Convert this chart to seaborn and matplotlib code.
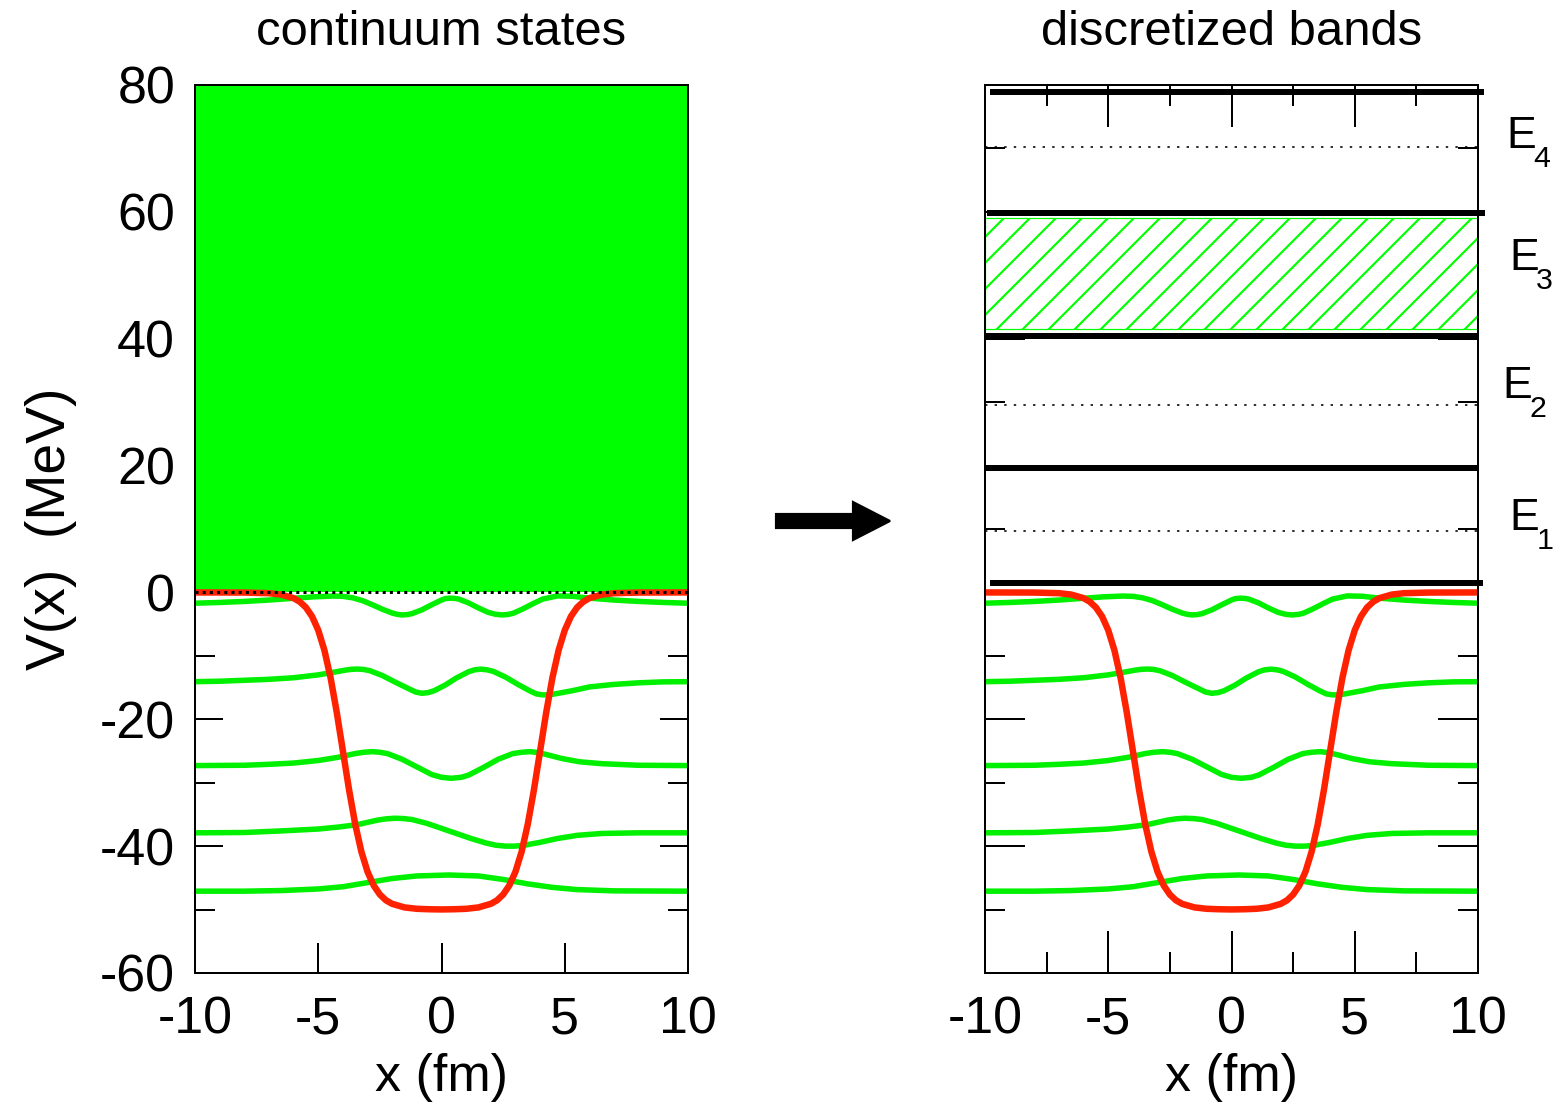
import numpy as np
import pandas as pd
import matplotlib
matplotlib.use("Agg")
import matplotlib.pyplot as plt
import seaborn as sns
from matplotlib.ticker import MultipleLocator, FixedLocator
from matplotlib.patches import FancyArrow

# ---------------- data ----------------
pot_x = [-10, -9, -8, -7, -6.5, -6, -5.75, -5.5, -5.25, -5, -4.75, -4.5, -4.25, -4,
         -3.75, -3.5, -3.25, -3, -2.75, -2.5, -2.25, -2, -1.5, -1, -0.5, 0,
         0.5, 1, 1.5, 2, 2.25, 2.5, 2.75, 3, 3.25, 3.5, 3.75, 4, 4.25, 4.5, 4.75, 5,
         5.25, 5.5, 5.75, 6, 6.5, 7, 8, 9, 10]
pot_v = [0.0, -0.01, -0.02, -0.12, -0.34, -0.90, -1.47, -2.37, -3.79, -5.96, -9.12, -13.45, -18.88, -25.0,
         -31.12, -36.55, -40.88, -44.04, -46.21, -47.63, -48.55, -49.10, -49.66, -49.88, -49.95, -49.98,
         -49.95, -49.88, -49.66, -49.10, -48.55, -47.63, -46.21, -44.04, -40.88, -36.55, -31.12, -25.0, -18.88, -13.45, -9.12, -5.96,
         -3.79, -2.37, -1.47, -0.90, -0.34, -0.12, -0.02, -0.01, 0.0]

w1_x = [-10, -9, -8, -7, -6, -5.2, -4.4, -4.0, -3.6, -3.2, -2.8, -2.4, -2.0, -1.8, -1.6, -1.4,
        -1.2, -0.8, -0.4, 0.0, 0.15, 0.35, 0.55, 0.7, 1.1, 1.5, 1.9, 2.2, 2.45, 2.7, 2.9, 3.3, 3.7, 4.1,
        4.7, 5.3, 6.0, 7, 8, 9, 10]
w1_y = [-1.70, -1.58, -1.42, -1.20, -0.92, -0.70, -0.57, -0.62, -0.85, -1.30, -1.95, -2.65, -3.25, -3.45, -3.55, -3.50,
        -3.35, -2.75, -1.95, -1.20, -0.98, -0.90, -0.95, -1.05, -1.65, -2.45, -3.15, -3.45, -3.55, -3.47, -3.30, -2.60, -1.80, -1.05,
        -0.55, -0.60, -0.90, -1.20, -1.42, -1.58, -1.70]

w2_x = [-10, -9, -8, -7, -6, -5, -4.4, -3.9, -3.65, -3.4, -3.15, -2.9, -2.4, -1.9, -1.4, -1.05, -0.8, -0.55, -0.3,
        0.15, 0.6, 1.1, 1.35, 1.6, 1.85, 2.1, 2.6, 3.1, 3.6, 3.85, 4.1, 4.35, 4.6, 5.3, 6, 7, 8, 9, 10]
w2_y = [-14.07, -14.0, -13.85, -13.7, -13.45, -13.0, -12.6, -12.25, -12.12, -12.08, -12.15, -12.35, -13.1, -14.1, -15.05, -15.7, -15.9, -15.8, -15.5,
        -14.6, -13.5, -12.5, -12.2, -12.1, -12.2, -12.45, -13.35, -14.5, -15.55, -16.0, -16.15, -16.15, -16.0, -15.5, -14.9, -14.5, -14.25, -14.1, -14.07]

w3_x = [-10, -8, -7, -6, -5, -4.2, -3.5, -3.15, -2.8, -2.5, -2.2, -1.6, -1.0, -0.4, 0.0, 0.4, 0.8, 1.1, 1.7,
        2.3, 2.9, 3.25, 3.6, 3.9, 4.2, 4.9, 5.6, 6.5, 8, 10]
w3_y = [-27.3, -27.25, -27.1, -26.9, -26.5, -26.0, -25.4, -25.2, -25.1, -25.2, -25.4, -26.3, -27.5, -28.7, -29.15, -29.3, -29.15, -28.8, -27.6,
        -26.3, -25.4, -25.2, -25.1, -25.25, -25.5, -26.2, -26.7, -27.0, -27.25, -27.3]

w4_x = [-10, -8, -6.5, -5, -4.2, -3.4, -2.6, -2.25, -1.9, -1.55, -1.2, -0.6, 0.0, 0.6, 1.2, 1.8, 2.2, 2.6,
        2.95, 3.3, 4.0, 4.7, 5.5, 6.5, 8, 10]
w4_y = [-37.9, -37.85, -37.6, -37.3, -37.0, -36.6, -35.9, -35.7, -35.6, -35.65, -35.8, -36.4, -37.2, -38.0, -38.8, -39.5, -39.85, -40.0,
        -40.0, -39.9, -39.4, -38.8, -38.3, -38.0, -37.9, -37.9]

w5_x = [-10, -8, -6.5, -5, -4, -3, -2, -1, 0.3, 1.5, 2.5, 3.5, 4.5, 5.5, 7, 10]
w5_y = [-47.1, -47.1, -47.0, -46.75, -46.4, -45.75, -45.1, -44.7, -44.55, -44.7, -45.25, -45.95, -46.5, -46.85, -47.05, -47.1]

cont_x = [-10, 10]
cont_lo = [0, 0]
cont_hi = [80, 80]

band_edges = [1.5, 19.6, 40.4, 59.8, 78.9]
band_edge_xmin = [-9.8, -10, -10, -9.9, -9.8]
band_edge_xmax = [10.2, 10, 10, 10.3, 10.25]
band_dotted = [9.7, 29.5, 70.2]
hatch_lo = [41.6, 41.6]
hatch_hi = [59.0, 59.0]
band_names = ["1", "2", "3", "4"]
band_label_x = [11.27, 11.0, 11.27, 11.15]
band_label_y = [9.84, 30.65, 50.8, 70.06]

xticks_major = [-10, -5, 0, 5, 10]
yticks_major = [-60, -40, -20, 0, 20, 40, 60, 80]

# ---------------- style ----------------
sns.set_theme(style="ticks")
FONT = ["Liberation Sans", "DejaVu Sans"]
plt.rcParams["font.family"] = FONT
plt.rcParams["hatch.linewidth"] = 1.0
for k in ("text.color", "axes.labelcolor", "xtick.color", "ytick.color", "axes.edgecolor"):
    plt.rcParams[k] = "black"

DPI = 156
PX = 72.0 / DPI  # points per pixel
fig = plt.figure(figsize=(1561 / DPI, 1109 / DPI), dpi=DPI)
fig.patch.set_facecolor("white")

W, H = 1561.0, 1109.0
ax1 = fig.add_axes([195 / W, (H - 973) / H, 493 / W, 888 / H])
ax2 = fig.add_axes([985 / W, (H - 973) / H, 493 / W, 888 / H])

GREEN = "#00f000"
RED = "#ff2200"

waves = [(w1_x, w1_y), (w2_x, w2_y), (w3_x, w3_y), (w4_x, w4_y), (w5_x, w5_y)]

for ax in (ax1, ax2):
    ax.set_facecolor("white")
    for wx, wy in waves:
        sns.lineplot(x=wx, y=wy, ax=ax, color=GREEN, lw=5.5 * PX, zorder=3,
                     estimator=None, sort=False)
    sns.lineplot(x=pot_x, y=pot_v, ax=ax, color=RED, lw=6.5 * PX, zorder=4,
                 estimator=None, sort=False)
    ax.set_xlim(-10, 10)
    ax.set_ylim(-60, 80)
    for s in ax.spines.values():
        s.set_visible(True)
        s.set_linewidth(2 * PX)
        s.set_color("black")
        s.set_zorder(6)
    ax.xaxis.set_major_locator(FixedLocator(xticks_major))
    ax.yaxis.set_major_locator(FixedLocator(yticks_major))
    ax.yaxis.set_minor_locator(MultipleLocator(10))
    ax.set_xticklabels([str(v) for v in xticks_major], fontsize=24, color="black")
    ax.set_xlabel("x (fm)", fontsize=24, color="black")
    ax.xaxis.set_label_coords(0.5, -0.09)

# left panel: continuum
ax1.fill_between(cont_x, cont_lo, cont_hi, color="#00ff00", lw=0, zorder=1)
ax1.hlines(0, -10, 10, colors="black", lw=3 * PX, linestyles=(0, (1, 1.4)), zorder=5)
ax1.set_yticklabels([str(v) for v in yticks_major], fontsize=24, color="black")
ax1.tick_params(axis="y", which="major", direction="in", length=28 * PX, width=2 * PX,
                left=True, right=True, pad=20 * PX, colors="black")
ax1.tick_params(axis="y", which="minor", direction="in", length=20 * PX, width=2 * PX,
                left=True, right=True, colors="black")
ax1.tick_params(axis="x", which="major", direction="in", length=30 * PX, width=2 * PX,
                bottom=True, top=True, pad=22 * PX, colors="black")
ax1.tick_params(axis="x", which="minor", bottom=False, top=False)
ax1.set_ylabel("V(x)  (MeV)", fontsize=25.5, color="black")
ax1.yaxis.set_label_coords(-0.239, 0.5)
ax1.set_title("continuum states", fontsize=22.6, pad=40 * PX, color="black")

# right panel: discretized bands
ax2.fill_between(cont_x, hatch_lo, hatch_hi, facecolor="white", edgecolor="#00ff00",
                 hatch="//", lw=1.2 * PX, zorder=2)
ax2.hlines(band_dotted, -10, 10, colors="black", lw=1.6 * PX,
           linestyles=(0, (1.5, 4.5)), zorder=2)
ax2.hlines(band_edges, band_edge_xmin, band_edge_xmax, colors="black", lw=6 * PX,
           zorder=5, clip_on=False)
ax2.xaxis.set_minor_locator(MultipleLocator(2.5))
ax2.tick_params(axis="y", which="major", direction="in", length=40 * PX, width=2 * PX,
                left=True, right=True, labelleft=False, colors="black")
ax2.tick_params(axis="y", which="minor", direction="in", length=20 * PX, width=2 * PX,
                left=True, right=True, colors="black")
ax2.tick_params(axis="x", which="major", direction="in", length=42 * PX, width=2 * PX,
                bottom=True, top=True, pad=22 * PX, colors="black")
ax2.tick_params(axis="x", which="minor", direction="in", length=21 * PX, width=2 * PX,
                bottom=True, top=True, colors="black")
ax2.set_ylabel("")
ax2.set_title("discretized bands", fontsize=22.6, pad=40 * PX, color="black")

for name, lx, ly in zip(band_names, band_label_x, band_label_y):
    ax2.text(lx, ly, "E", fontsize=20.6, ha="left", va="baseline", clip_on=False,
             color="black")
    ax2.annotate(name, xy=(lx, ly), xytext=(27 * PX, -19 * PX), textcoords="offset points",
                 fontsize=14, ha="left", va="baseline", annotation_clip=False,
                 color="black")

# arrow between panels
arrow = FancyArrow(776 / W, 1 - 521 / H, (890 - 776) / W, 0,
                   width=14 / H, head_width=38 / H, head_length=37 / W,
                   length_includes_head=True, color="black",
                   transform=fig.transFigure)
fig.add_artist(arrow)

fig.savefig("out.png", dpi=DPI, facecolor="white")
